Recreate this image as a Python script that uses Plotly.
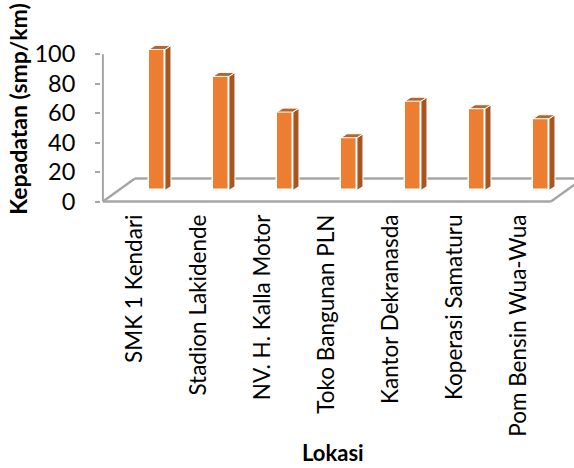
import plotly.graph_objects as go

# Traffic density per location
lokasi = [
    "SMK 1 Kendari",
    "Stadion Lakidende",
    "NV. H. Kalla Motor",
    "Toko Bangunan PLN",
    "Kantor Dekranasda",
    "Koperasi Samaturu",
    "Pom Bensin Wua-Wua",
]
kepadatan = [95.7, 77.4, 53.2, 35.8, 60.6, 55.5, 48.7]
y_ticks = [0, 20, 40, 60, 80, 100]

# Oblique "3D" geometry (in axis units)
DEPTH_X, DEPTH_Y = 0.5, 15.6        # full floor depth offset
BAR_OFF_X, BAR_BASE = 0.344, 7.5    # bar front face position inside the floor
BAR_W = 0.25
SIDE_X, SIDE_Y = 0.094, 2.7         # bar depth

FRONT = "#ED7D31"
SIDE = "#A9561E"
TOP = "#B9642A"
GRID = "#A6A6A6"
FONT = "Lato"

xs = list(range(len(lokasi)))
fig = go.Figure()

# side and top faces of each column
for i, v in zip(xs, kepadatan):
    x0 = i + BAR_OFF_X - BAR_W / 2
    x1 = i + BAR_OFF_X + BAR_W / 2
    b, t = BAR_BASE, BAR_BASE + v
    fig.add_trace(go.Scatter(
        x=[x1, x1 + SIDE_X, x1 + SIDE_X, x1, x1],
        y=[b, b + SIDE_Y, t + SIDE_Y, t, b],
        fill="toself", fillcolor=SIDE, mode="lines",
        line=dict(color="white", width=1), hoverinfo="skip", showlegend=False))
    fig.add_trace(go.Scatter(
        x=[x0, x0 + SIDE_X, x1 + SIDE_X, x1, x0],
        y=[t, t + SIDE_Y, t + SIDE_Y, t, t],
        fill="toself", fillcolor=TOP, mode="lines",
        line=dict(color="white", width=1), hoverinfo="skip", showlegend=False))

# front faces
fig.add_trace(go.Bar(
    x=[i + BAR_OFF_X for i in xs], y=kepadatan, base=BAR_BASE, width=BAR_W,
    marker=dict(color=FRONT, line=dict(color="white", width=1.5)),
    showlegend=False, hoverinfo="skip"))

n = len(lokasi)
x_left, x_right = -0.5, n - 0.5
floor = [
    (x_left, 0, x_right, 0),
    (x_right, 0, x_right + DEPTH_X, DEPTH_Y),
    (x_left + DEPTH_X, DEPTH_Y, x_right + DEPTH_X, DEPTH_Y),
    (x_left, 0, x_left + DEPTH_X, DEPTH_Y),
]
shapes = [dict(type="line", xref="x", yref="y", x0=a, y0=b, x1=c, y1=d,
               line=dict(color=GRID, width=2.5), layer="below")
          for a, b, c, d in floor]
shapes.append(dict(type="line", xref="x", yref="y", x0=x_left, y0=0,
                   x1=x_left, y1=y_ticks[-1],
                   line=dict(color=GRID, width=2), layer="below"))

fig.update_layout(
    width=574, height=468,
    margin=dict(l=101, r=0, t=39, b=265),
    paper_bgcolor="white", plot_bgcolor="white",
    bargap=0, shapes=shapes,
    xaxis=dict(range=[-0.53, 6.86], tickmode="array", tickvals=xs,
               ticktext=lokasi, tickangle=-90, showgrid=False,
               zeroline=False, showline=False, ticks="",
               ticklabelstandoff=6,
               tickfont=dict(family=FONT, size=22.5, color="black")),
    yaxis=dict(range=[-1, 110.3], tickmode="array", tickvals=y_ticks,
               showgrid=False, zeroline=False, showline=False,
               ticks="outside", ticklen=5, tickcolor=GRID, tickwidth=1.5,
               ticklabelstandoff=15,
               tickfont=dict(family=FONT, size=23.5, color="black")),
    annotations=[
        dict(text="<b>Kepadatan (smp/km)</b>", textangle=-90, xref="paper",
             yref="paper", x=-0.176, y=0.573, xanchor="center",
             yanchor="middle", showarrow=False,
             font=dict(family=FONT, size=23, color="black")),
        dict(text="<b>Lokasi</b>", xref="paper", yref="paper",
             x=0.49, y=-1.52, xanchor="center", yanchor="middle",
             showarrow=False,
             font=dict(family=FONT, size=22, color="black")),
    ],
)

fig.write_html("out.html")
